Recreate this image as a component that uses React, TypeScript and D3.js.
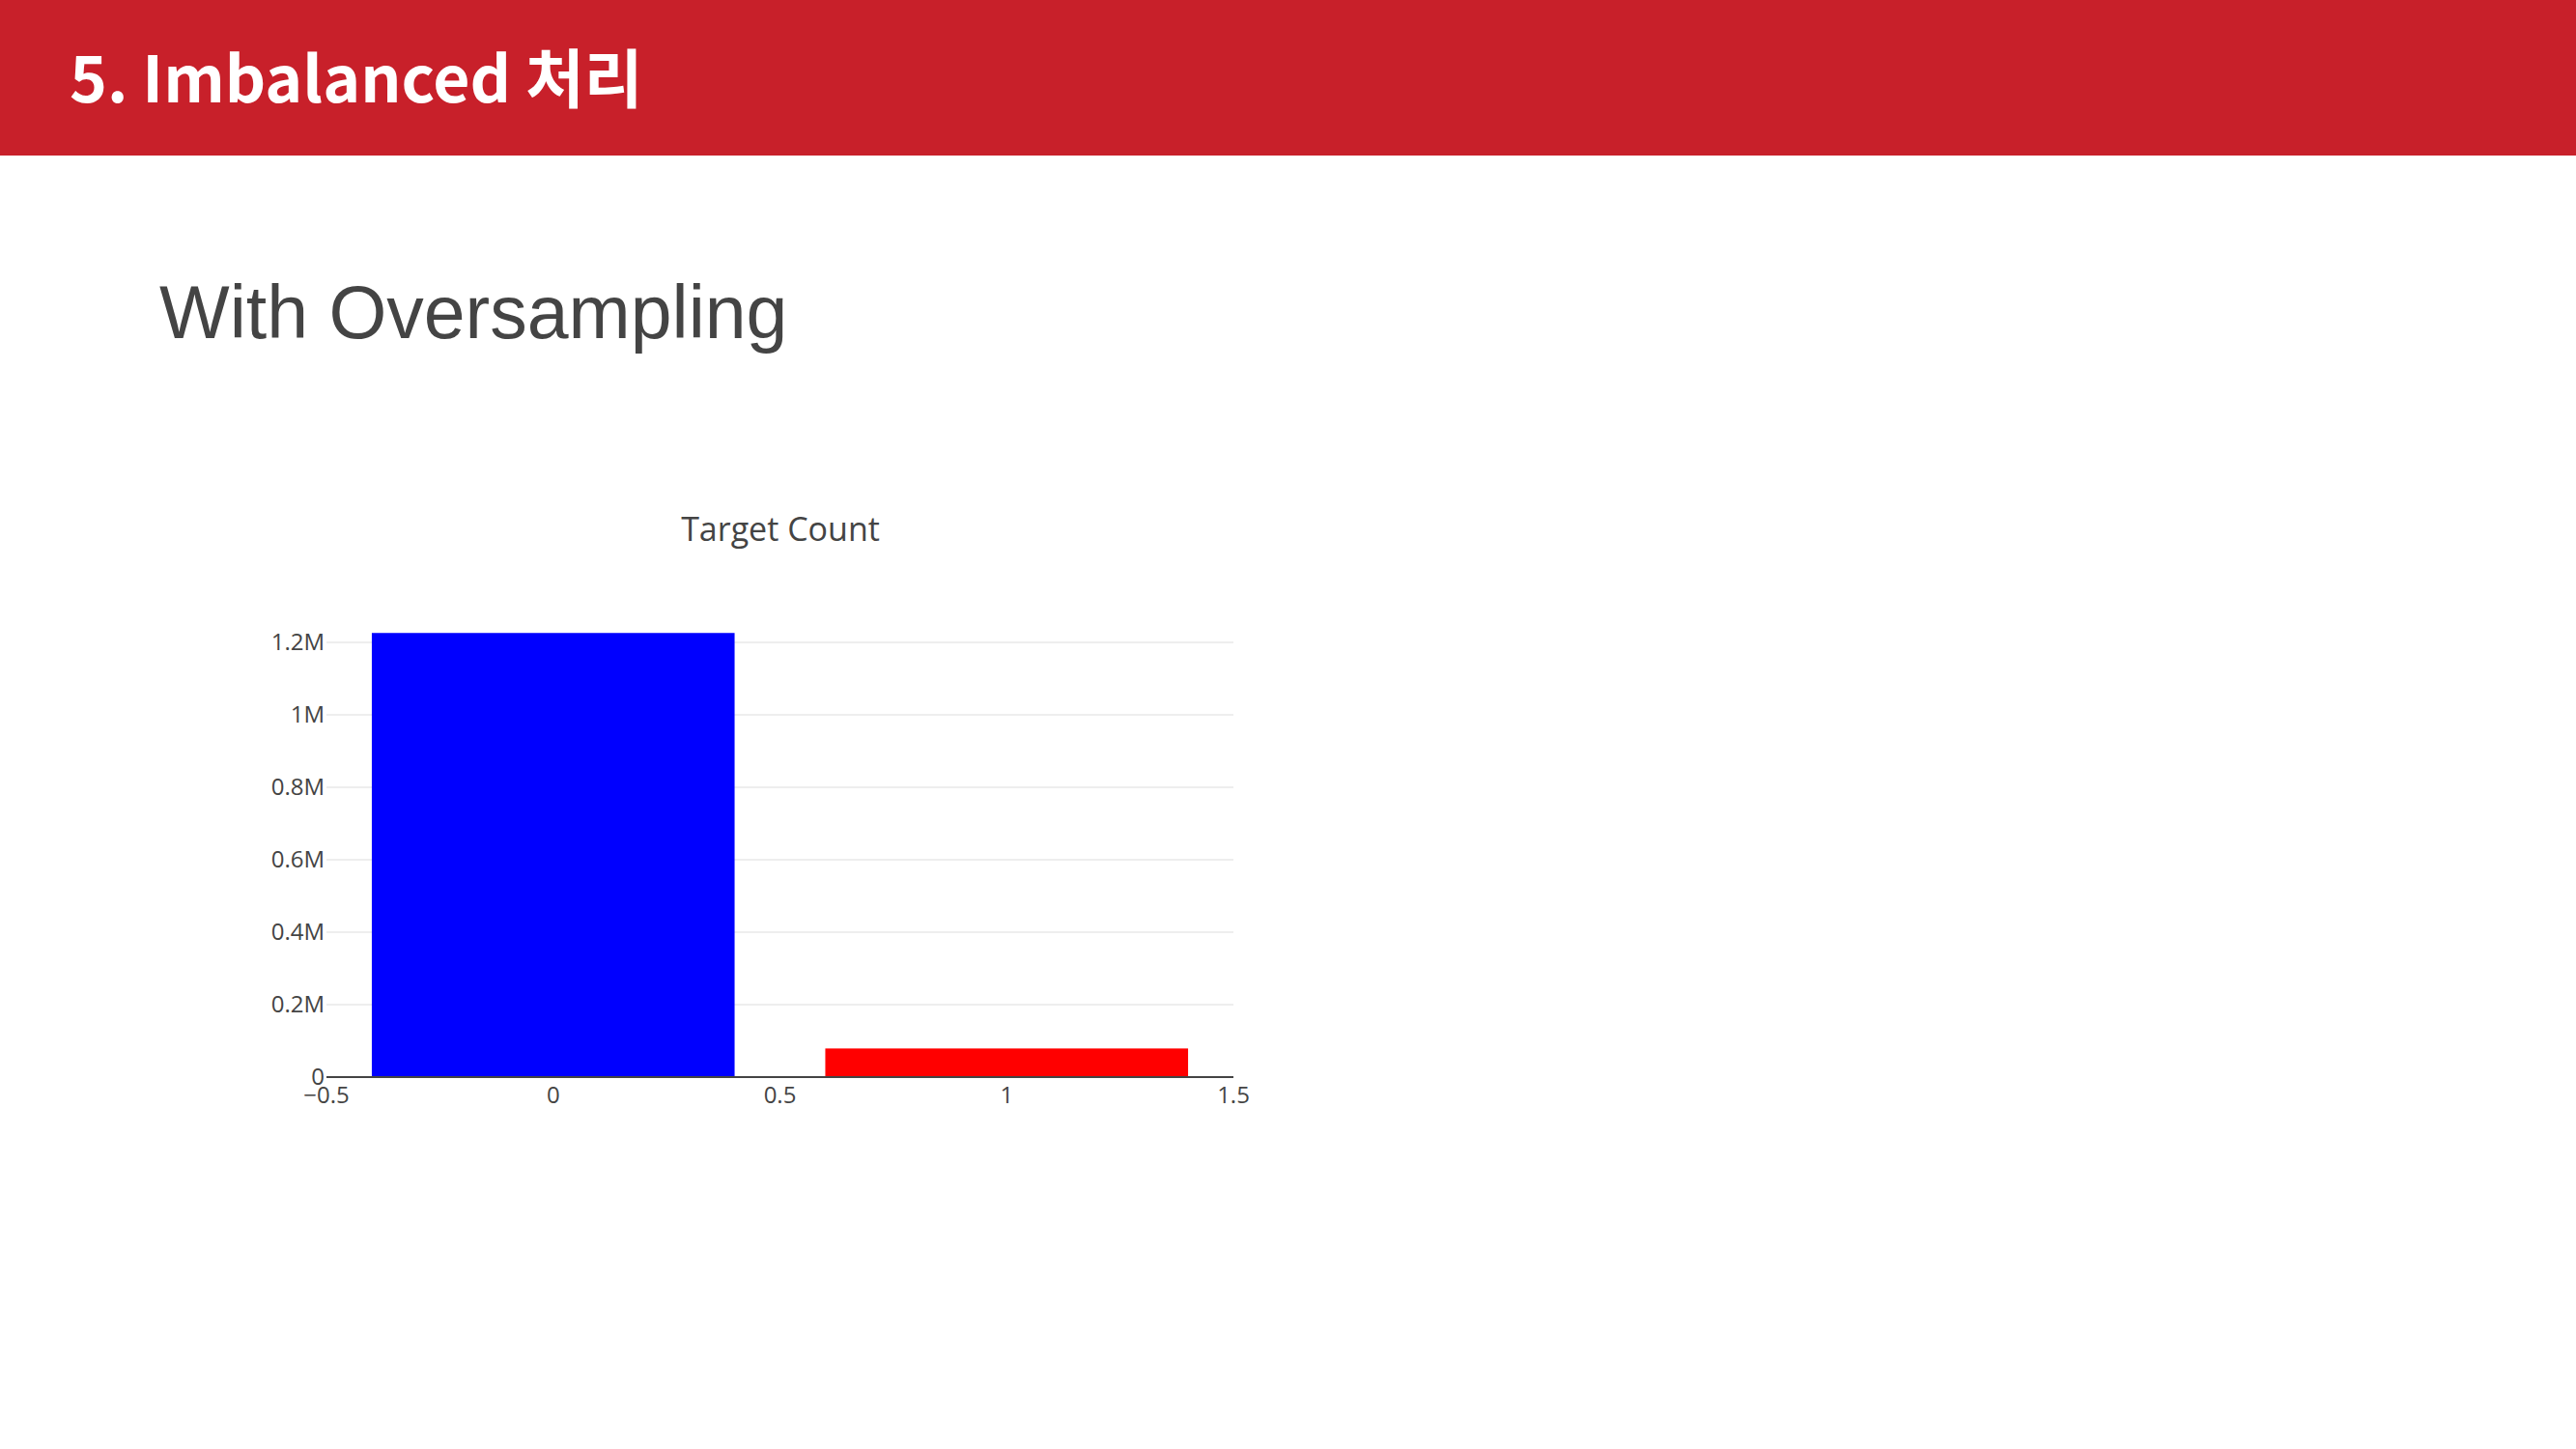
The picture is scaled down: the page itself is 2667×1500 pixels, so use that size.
import React from 'react';
import * as d3 from 'd3';

const categories = [0, 1];
const counts = [1226000, 79000];
const barColors = ['#0000ff', '#ff0000'];
const xTicks = [-0.5, 0, 0.5, 1, 1.5];
const yTicks = [0, 200000, 400000, 600000, 800000, 1000000, 1200000];

const fmtY = (v: number) => (v === 0 ? '0' : `${+(v / 1e6).toFixed(1)}M`);
const fmtX = (v: number) => (v < 0 ? `\u2212${Math.abs(v)}` : `${v}`);

export default function App() {
  const W = 2667, H = 1500;
  // plot area
  const left = 338, right = 1277, bottom = 1115;

  const x = d3.scaleLinear().domain([-0.5, 1.5]).range([left, right]);
  const y = d3.scaleLinear().domain([0, 1200000]).range([bottom, 665]);

  return (
    <svg width={W} height={H} style={{ position: 'absolute', left: 0, top: 0 }}>
      <rect x={0} y={0} width={W} height={H} fill="#fff" />
      {/* header */}
      <rect x={0} y={0} width={W} height={161} fill="#c8202a" />
      <text x={72} y={106} fill="#fff" fontSize={66} fontWeight={700}
        fontFamily="'Noto Sans CJK KR', 'Noto Sans', sans-serif">5. Imbalanced 처리</text>
      <text x={165} y={350} fill="#444" fontSize={77}
        fontFamily="'Liberation Sans', Arial, sans-serif">With Oversampling</text>

      {/* chart title */}
      <text x={808} y={560} textAnchor="middle" fill="#444" fontSize={34}
        fontFamily="'Open Sans', sans-serif">Target Count</text>

      {/* gridlines */}
      {yTicks.filter(t => t > 0).map(t => (
        <line key={t} x1={left} x2={right} y1={y(t)} y2={y(t)} stroke="#eeeeee" strokeWidth={2} />
      ))}

      {/* bars */}
      {categories.map((c, i) => (
        <rect key={c} x={x(c - 0.4)} width={x(c + 0.4) - x(c - 0.4)}
          y={y(counts[i])} height={y(0) - y(counts[i])} fill={barColors[i]} />
      ))}

      {/* x axis line */}
      <line x1={left} x2={right} y1={y(0)} y2={y(0)} stroke="#444" strokeWidth={2} />

      {/* y ticks */}
      {yTicks.map(t => (
        <text key={t} x={left - 2} y={y(t) + 8} textAnchor="end" fill="#444" fontSize={24}
          fontFamily="'Open Sans', sans-serif">{fmtY(t)}</text>
      ))}
      {/* x ticks */}
      {xTicks.map(t => (
        <text key={t} x={x(t)} y={y(0) + 27} textAnchor="middle" fill="#444" fontSize={24}
          fontFamily="'Open Sans', sans-serif">{fmtX(t)}</text>
      ))}
    </svg>
  );
}
